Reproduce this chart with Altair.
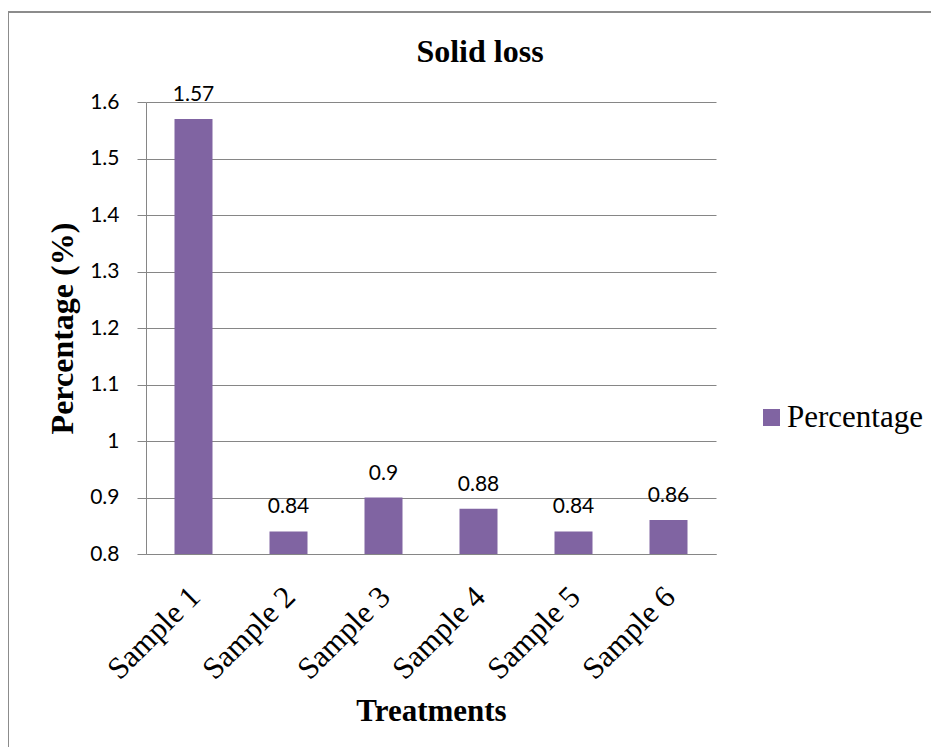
import altair as alt
import pandas as pd

categories = ["Sample 1", "Sample 2", "Sample 3", "Sample 4", "Sample 5", "Sample 6"]
values = [1.57, 0.84, 0.9, 0.88, 0.84, 0.86]
series = ["Percentage"] * 6
y_ticks = [0.8, 0.9, 1.0, 1.1, 1.2, 1.3, 1.4, 1.5, 1.6]
title_text = ["Solid loss"]

df = pd.DataFrame({"Treatment": categories, "Value": values, "Series": series})
tdf = pd.DataFrame({"t": title_text})

PURPLE = "#8064A2"
GRID = "#868686"
SERIF = "Liberation Serif"
SANS = "Lato"

W, H = 570, 452

x_enc = alt.X("Treatment:N", sort=categories,
              scale=alt.Scale(paddingInner=0.6, paddingOuter=0.3),
              axis=alt.Axis(title="Treatments", titleFont=SERIF, titleFontSize=31,
                            titleFontWeight="bold", titleColor="black", titlePadding=12,
                            labelAngle=-45, labelAlign="right", labelBaseline="middle",
                            labelFont=SERIF, labelFontSize=31, labelColor="black",
                            labelPadding=38, labelOffset=2, ticks=False, tickSize=0,
                            domainColor=GRID, grid=False))
y_scale = alt.Scale(domain=[0.8, 1.6], zero=False, nice=False)
y_enc = alt.Y("Value:Q", scale=y_scale,
              axis=alt.Axis(title="Percentage (%)", titleFont=SERIF, titleFontSize=32,
                            titleFontWeight="bold", titleColor="black", titlePadding=10,
                            values=y_ticks, format=".2~f", labelFont=SANS, labelFontSize=21,
                            labelColor="black", labelPadding=18, tickSize=9, tickColor=GRID,
                            domainColor=GRID, gridColor=GRID, gridWidth=1))

bars = alt.Chart(df).mark_bar(stroke=None).encode(
    x=x_enc,
    y=y_enc,
    y2=alt.datum(0.8),
    color=alt.Color("Series:N", scale=alt.Scale(range=[PURPLE]),
                    legend=alt.Legend(title=None, orient="none", legendX=610, legendY=300,
                                      padding=0, symbolType="square", symbolSize=289,
                                      symbolStrokeWidth=0, labelFont=SERIF,
                                      labelFontSize=31, labelColor="black",
                                      labelOffset=0)),
)

labels = alt.Chart(df).mark_text(font=SANS, fontSize=21, color="black",
                                 baseline="alphabetic", dy=-18).encode(
    x=x_enc,
    y=y_enc,
    text=alt.Text("Value:Q", format=".2~f"),
)

title = alt.Chart(tdf).mark_text(font=SERIF, fontSize=32, fontWeight="bold",
                                 color="black", align="center", baseline="alphabetic",
                                 clip=False).encode(
    x=alt.value(334), y=alt.value(-40), text="t:N"
)

border_left = alt.Chart(tdf).mark_rule(stroke="#8c8c8c", strokeWidth=2, clip=False).encode(
    x=alt.value(-138), y=alt.value(-90), y2=alt.value(700)
)
border_top = alt.Chart(tdf).mark_rule(stroke="#8c8c8c", strokeWidth=2, clip=False).encode(
    x=alt.value(-138), x2=alt.value(900), y=alt.value(-90)
)

chart = alt.layer(border_left, border_top, bars, labels, title).properties(
    width=W, height=H,
    autosize=alt.AutoSizeParams(type="none"),
    padding={"left": 138, "top": 94, "right": 215, "bottom": 193},
).configure_view(stroke=None)

chart.save("out.html", embed_options={"renderer": "svg", "actions": False})
